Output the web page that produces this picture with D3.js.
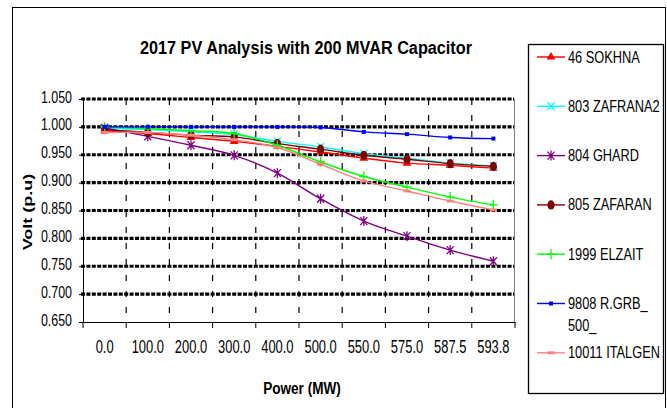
<!DOCTYPE html>
<html>
<head>
<meta charset="utf-8">
<script src="https://cdn.jsdelivr.net/npm/d3@7"></script>
<style>
  body { margin: 0; background: #fff; }
  text { font-family: "Liberation Sans", Arial, sans-serif; fill: #000; }
</style>
</head>
<body>
<svg id="chart" width="667" height="408"></svg>
<script>
// Categories on the x axis (power, MW)
const powerLabels = ["0.0", "100.0", "200.0", "300.0", "400.0", "500.0", "550.0", "575.0", "587.5", "593.8"];

// Bus voltages (p.u)
const sokhna   = [0.993, 0.988, 0.981, 0.974, 0.965, 0.955, 0.944, 0.935, 0.931, 0.926];
const zafrana2 = [0.998, 0.995, 0.991, 0.986, 0.974, 0.964, 0.952, 0.944, 0.935, 0.930];
const ghard    = [0.998, 0.983, 0.967, 0.949, 0.917, 0.871, 0.831, 0.804, 0.779, 0.759];
const zafaran  = [0.995, 0.990, 0.985, 0.982, 0.970, 0.960, 0.949, 0.942, 0.934, 0.929];
const elzait   = [1.000, 0.997, 0.993, 0.988, 0.967, 0.937, 0.911, 0.892, 0.874, 0.860];
const rgrb     = [1.000, 1.000, 1.000, 1.000, 1.000, 0.999, 0.991, 0.987, 0.981, 0.979];
const italgen  = [0.990, 0.990, 0.985, 0.977, 0.963, 0.933, 0.903, 0.885, 0.867, 0.851];

const seriesNames = ["46 SOKHNA", "803 ZAFRANA2", "804 GHARD", "805 ZAFARAN", "1999 ELZAIT", "9808 R.GRB_|500_", "10011 ITALGEN"];
const yTicks = [0.65, 0.70, 0.75, 0.80, 0.85, 0.90, 0.95, 1.00, 1.05];

const series = [
  {name: seriesNames[0], values: sokhna,   color: "#ff0000", marker: "triangle"},
  {name: seriesNames[1], values: zafrana2, color: "#00ffff", marker: "x"},
  {name: seriesNames[2], values: ghard,    color: "#800080", marker: "star"},
  {name: seriesNames[3], values: zafaran,  color: "#800000", marker: "circle"},
  {name: seriesNames[4], values: elzait,   color: "#00ff00", marker: "plus"},
  {name: seriesNames[5], values: rgrb,     color: "#0000ff", marker: "square"},
  {name: seriesNames[6], values: italgen,  color: "#ff8080", marker: "dash"}
];

const plot = {left: 83, right: 515, top: 99, bottom: 322};

const svg = d3.select("#chart");

// outer frame
svg.append("rect")
  .attr("x", 12.5).attr("y", 7.5).attr("width", 653).attr("height", 410)
  .attr("fill", "#fff").attr("stroke", "#000").attr("stroke-width", 1);

// scales
const x = d3.scaleBand().domain(powerLabels).range([plot.left, plot.right]).padding(0);
const y = d3.scaleLinear().domain([0.65, 1.05]).range([plot.bottom, plot.top]);
const cx = (i) => x(powerLabels[i]) + x.bandwidth() / 2;

// vertical dashed lines at category boundaries
const bounds = powerLabels.map((d) => x(d)).concat([plot.right]);
svg.append("g").selectAll("line")
  .data(bounds.slice(1, -1))
  .enter().append("line")
  .attr("x1", (d) => d).attr("x2", (d) => d)
  .attr("y1", plot.top).attr("y2", plot.bottom)
  .attr("stroke", "#000").attr("stroke-width", 1.2)
  .attr("stroke-dasharray", "6,10");

// right border of plot area
svg.append("line")
  .attr("x1", plot.right - 0.5).attr("x2", plot.right - 0.5)
  .attr("y1", plot.top).attr("y2", plot.bottom)
  .attr("stroke", "#808080").attr("stroke-width", 1);

// thick dotted horizontal grid
svg.append("g").selectAll("line")
  .data(yTicks.slice(1))
  .enter().append("line")
  .attr("x1", plot.left - 2).attr("x2", plot.right - 1)
  .attr("y1", (d) => y(d)).attr("y2", (d) => y(d))
  .attr("stroke", "#000").attr("stroke-width", 3.2)
  .attr("stroke-dasharray", "4,1.4");

// y axis
const yAxis = svg.append("g")
  .attr("transform", `translate(${plot.left},0)`)
  .call(d3.axisLeft(y).tickValues(yTicks).tickFormat(d3.format(".3f")).tickSizeInner(4).tickSizeOuter(0));
yAxis.select(".domain").attr("stroke", "#000");
yAxis.selectAll("text")
  .attr("x", null).attr("dy", null)
  .attr("text-anchor", "end")
  .style("font-size", "17px")
  .attr("transform", "translate(-11,3) scale(0.73,1)");

// x axis
const xAxis = svg.append("g")
  .attr("transform", `translate(0,${plot.bottom})`)
  .call(d3.axisBottom(x).tickSize(0).tickSizeOuter(0));
xAxis.select(".domain").attr("stroke", "#000");
xAxis.selectAll("text")
  .attr("y", null).attr("dy", null)
  .style("font-size", "19px")
  .attr("transform", "translate(0,31) scale(0.68,1)");
svg.append("g").selectAll("line")
  .data(bounds)
  .enter().append("line")
  .attr("x1", (d) => d).attr("x2", (d) => d)
  .attr("y1", plot.bottom).attr("y2", plot.bottom + 6)
  .attr("stroke", "#000");

// marker painter
function drawMarker(g, type, color) {
  if (type === "triangle") {
    g.append("path").attr("d", d3.symbol(d3.symbolTriangle).size(34)()).attr("fill", color);
  } else if (type === "x") {
    g.append("path").attr("d", "M-3.5,-4L3.5,4M-3.5,4L3.5,-4").attr("stroke", color).attr("stroke-width", 1.3).attr("fill", "none");
  } else if (type === "star") {
    g.append("path").attr("d", "M-3.5,-4L3.5,4M-3.5,4L3.5,-4M0,-5V5").attr("stroke", color).attr("stroke-width", 1.3).attr("fill", "none");
  } else if (type === "circle") {
    g.append("ellipse").attr("rx", 3.6).attr("ry", 4.6).attr("fill", color);
  } else if (type === "plus") {
    g.append("path").attr("d", "M-4.5,0H4.5M0,-5V5").attr("stroke", color).attr("stroke-width", 1.3).attr("fill", "none");
  } else if (type === "square") {
    g.append("rect").attr("x", -2).attr("y", -2).attr("width", 4).attr("height", 4).attr("fill", color);
  } else if (type === "dash") {
    g.append("rect").attr("x", -3.5).attr("y", -1.5).attr("width", 7).attr("height", 3).attr("fill", color);
  }
}

// lines and markers
const line = d3.line()
  .x((d, i) => cx(i))
  .y((d) => y(d))
  .curve(d3.curveCatmullRom.alpha(0.5));

series.forEach((s) => {
  const g = svg.append("g");
  g.append("path")
    .datum(s.values)
    .attr("fill", "none")
    .attr("stroke", s.color)
    .attr("stroke-width", 1.4)
    .attr("d", line);
  s.values.forEach((v, i) => {
    const m = g.append("g").attr("transform", `translate(${cx(i)},${y(v)})`);
    drawMarker(m, s.marker, s.color);
  });
});

// title
svg.append("text")
  .attr("x", 306).attr("y", 54)
  .attr("text-anchor", "middle")
  .style("font-size", "18px").style("font-weight", "bold")
  .attr("textLength", 332).attr("lengthAdjust", "spacingAndGlyphs")
  .text("2017 PV Analysis with 200 MVAR Capacitor");

// axis titles
svg.append("text")
  .attr("text-anchor", "middle")
  .attr("dy", "0.35em")
  .style("font-size", "18px").style("font-weight", "bold")
  .attr("transform", "translate(27,212) scale(0.73,1) rotate(-90)")
  .text("Volt (p.u)");

svg.append("text")
  .attr("text-anchor", "middle")
  .style("font-size", "17px").style("font-weight", "bold")
  .attr("transform", "translate(302,394) scale(0.8,1)")
  .text("Power (MW)");

// legend
svg.append("rect")
  .attr("x", 528.5).attr("y", 44.5).attr("width", 135).attr("height", 349)
  .attr("fill", "#fff").attr("stroke", "#000").attr("stroke-width", 1.3);

const legend = svg.append("g").selectAll("g")
  .data(series)
  .enter().append("g")
  .attr("transform", (d, i) => `translate(537,${57 + i * 49.3})`);

legend.append("line")
  .attr("x1", 0).attr("x2", 28)
  .attr("stroke", (d) => d.color).attr("stroke-width", 1.4);
legend.each(function (d) {
  drawMarker(d3.select(this).append("g").attr("transform", "translate(14,0)"), d.marker, d.color);
});
const lt = legend.append("text")
  .style("font-size", "16px")
  .attr("transform", "translate(31,5.5) scale(0.8,1)");
lt.selectAll("tspan")
  .data((d) => d.name.split("|"))
  .enter().append("tspan")
  .attr("x", 0)
  .attr("dy", (d, i) => i === 0 ? 0 : 22)
  .text((d) => d);
</script>
</body>
</html>
